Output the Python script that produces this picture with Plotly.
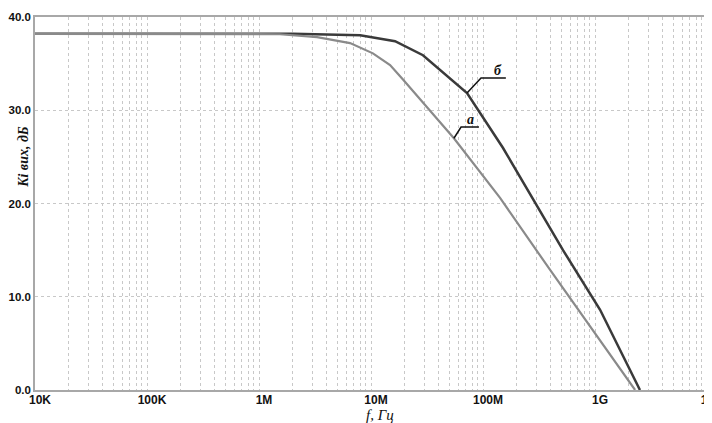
import math
import plotly.graph_objects as go

# Curve "б" (dark)
freq_b = [1e4, 2.0e6, 8.0e6, 1.64e7, 2.91e7, 5.4e7, 7.2e7, 1.51e8, 5.18e8, 1.11e9, 2.52e9]
gain_b = [38.2, 38.2, 38.05, 37.4, 35.9, 33.2, 31.85, 25.95, 15.0, 8.6, 0.0]
# Curve "а" (light)
freq_a = [1e4, 1.54e6, 3.3e6, 6.5e6, 1.04e7, 1.48e7, 1.93e7, 3.37e7, 5.5e7, 1.42e8, 3.96e8, 2.28e9]
gain_a = [38.2, 38.15, 37.85, 37.2, 36.1, 34.85, 33.3, 30.0, 27.0, 20.6, 12.9, 0.0]

x_tickvals = [1e4, 1e5, 1e6, 1e7, 1e8, 1e9, 1e10]
x_ticktext = ["10K", "100K", "1M", "10M", "100M", "1G", "10G"]
y_tickvals = [0, 10, 20, 30, 40]
y_ticktext = ["0.0", "10.0", "20.0", "30.0", "40.0"]

labels = ["б", "а"]
# leader: anchor index on curve, elbow (freq, gain), end freq, label (freq, gain)
lead_b = dict(idx=6, elbow=(9.6e7, 33.46), end=1.6e8, text=(1.36e8, 33.25))
lead_a = dict(idx=8, elbow=(6.37e7, 28.2), end=9.2e7, text=(7.66e7, 27.95))

dark = "#3a3a3a"
light = "#8a8a8a"

fig = go.Figure()
fig.add_trace(go.Scatter(x=freq_b, y=gain_b, mode="lines",
                         line=dict(color=dark, width=2.5), hoverinfo="skip", showlegend=False))
fig.add_trace(go.Scatter(x=freq_a, y=gain_a, mode="lines",
                         line=dict(color=light, width=2.2), hoverinfo="skip", showlegend=False))

for lead, fx, gy, lab in [(lead_b, freq_b, gain_b, labels[0]), (lead_a, freq_a, gain_a, labels[1])]:
    i = lead["idx"]
    fig.add_trace(go.Scatter(
        x=[fx[i], lead["elbow"][0], lead["end"]],
        y=[gy[i], lead["elbow"][1], lead["elbow"][1]],
        mode="lines", line=dict(color="#111111", width=1.5),
        hoverinfo="skip", showlegend=False))
    fig.add_annotation(x=math.log10(lead["text"][0]), y=lead["text"][1], xref="x", yref="y",
                       text=lab, showarrow=False, yanchor="bottom",
                       font=dict(family="Liberation Serif", size=14, color="#111111",
                                 style="italic", weight="bold"))

fig.add_annotation(xref="paper", yref="paper", x=-0.0164, y=0.625, text="Ki вих, дБ",
                   textangle=-90, showarrow=False, xanchor="center", yanchor="middle",
                   font=dict(family="Liberation Serif", size=14, color="#111111",
                             style="italic", weight="bold"))
fig.add_annotation(xref="paper", yref="paper", x=0.513, y=-0.066, text="f, Гц",
                   showarrow=False, xanchor="center", yanchor="middle",
                   font=dict(family="Liberation Serif", size=15, color="#111111", style="italic"))

grid = "#c8c8c8"
fig.update_layout(
    width=704, height=415, autosize=False,
    margin=dict(l=27, r=5, t=9, b=33),
    paper_bgcolor="white", plot_bgcolor="white",
    xaxis=dict(type="log", range=[4, 10], tickvals=x_tickvals, ticktext=x_ticktext,
               showgrid=True, gridcolor=grid, griddash="dot", gridwidth=1,
               minor=dict(dtick="D1", showgrid=True, gridcolor=grid, griddash="dot", gridwidth=1),
               showline=True, linecolor="#a8a8a8", linewidth=1.5, mirror=True,
               ticks="", ticklabelshift=5, ticklabelstandoff=-2, ticklabeloverflow="allow",
               automargin=False,
               tickfont=dict(family="Liberation Sans", size=12, color="#111111", weight="bold"),
               zeroline=False),
    yaxis=dict(range=[0, 40], tickvals=y_tickvals, ticktext=y_ticktext,
               showgrid=True, gridcolor=grid, griddash="dot", gridwidth=1,
               showline=True, linecolor="#a8a8a8", linewidth=1.5, mirror=True,
               ticks="", ticklen=0, automargin=False,
               tickfont=dict(family="Liberation Sans", size=11.5, color="#111111", weight="bold"),
               zeroline=False),
)

fig.write_html("out.html")
